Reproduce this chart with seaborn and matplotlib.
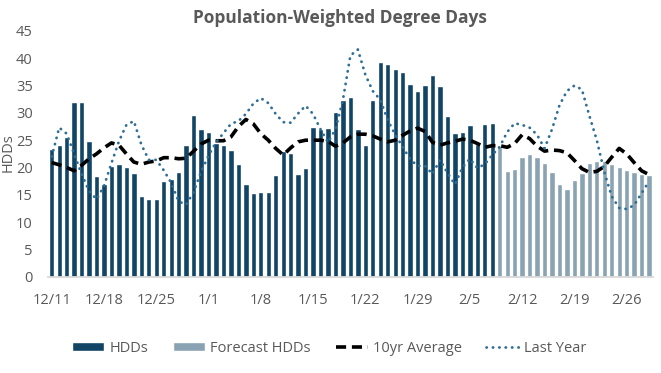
import numpy as np
import pandas as pd
import matplotlib
matplotlib.use("Agg")
import matplotlib.pyplot as plt
import seaborn as sns

# ------------------------------------------------------------
# Data (daily, 12/11 -> 2/29)
# ------------------------------------------------------------
hdds = [23.4, 24.1, 25.6, 32.0, 32.0, 24.8, 18.4, 17.0, 20.3, 20.6,
        20.1, 19.0, 14.8, 14.2, 14.2, 17.5, 17.9, 19.2, 24.1, 29.6,
        27.0, 26.5, 24.5, 24.1, 23.2, 20.6, 17.0, 15.3, 15.5, 15.5,
        18.6, 23.0, 22.6, 18.8, 19.9, 27.4, 27.0, 27.2, 30.2, 32.4,
        32.9, 27.0, 24.1, 32.4, 39.3, 38.9, 38.0, 37.5, 35.3, 34.0,
        35.1, 36.9, 34.9, 29.4, 26.3, 26.5, 27.8, 24.3, 28.0, 28.1]

forecast_hdds = [24.0, 19.4, 19.7, 21.9, 22.5, 21.9, 20.8, 19.2, 17.0, 16.1,
                 17.7, 19.0, 20.8, 21.2, 21.2, 20.6, 20.1, 19.5, 19.2, 18.8,
                 18.6]

avg_10yr = [20.9, 20.5, 20.0, 19.4, 20.4, 21.6, 22.5, 23.6, 24.5, 24.1,
            22.5, 21.0, 20.6, 21.0, 21.2, 21.8, 21.8, 21.6, 21.7, 23.0,
            24.3, 25.0, 24.9, 24.9, 25.6, 27.5, 28.8, 28.0, 26.2, 25.0,
            23.5, 22.3, 23.6, 24.7, 25.0, 25.0, 25.0, 24.8, 23.9, 24.5,
            25.6, 26.1, 26.1, 25.8, 25.2, 24.7, 25.0, 25.9, 26.7, 27.2,
            26.6, 24.6, 24.1, 24.5, 24.8, 25.2, 25.0, 24.4, 23.7, 24.0,
            24.0, 23.7, 24.4, 26.0, 25.3, 23.9, 23.0, 23.2, 23.1, 22.7,
            21.3, 19.8, 19.1, 19.3, 20.2, 21.9, 23.5, 22.5, 20.9, 19.4,
            18.7]

last_year = [22.0, 27.3, 26.2, 22.5, 18.8, 15.7, 14.2, 16.6, 20.8, 24.8,
             27.8, 28.5, 24.2, 21.4, 21.4, 19.5, 17.2, 13.8, 13.2, 15.5,
             19.2, 22.2, 24.6, 26.3, 28.0, 28.5, 29.8, 31.7, 32.7, 31.8,
             29.8, 28.3, 28.2, 29.9, 31.3, 29.8, 27.0, 24.6, 27.0, 32.4,
             40.5, 41.6, 37.0, 34.0, 32.4, 28.7, 26.0, 23.8, 21.5, 20.3,
             20.3, 18.8, 21.4, 19.0, 16.9, 20.0, 21.6, 19.9, 20.6, 22.3,
             23.8, 26.5, 28.1, 27.8, 27.3, 26.0, 23.5, 27.0, 31.4, 34.0,
             35.0, 34.3, 29.5, 25.0, 19.2, 14.7, 12.6, 12.4, 13.1, 15.3,
             17.5]

tick_labels = ["12/11", "12/18", "12/25", "1/1", "1/8", "1/15",
               "1/22", "1/29", "2/5", "2/12", "2/19", "2/26"]

days = list(range(len(hdds) + len(forecast_hdds)))

bars = pd.DataFrame({
    "day": days,
    "value": hdds + forecast_hdds,
    "kind": ["HDDs"] * len(hdds) + ["Forecast HDDs"] * len(forecast_hdds),
})

# ------------------------------------------------------------
# Plot
# ------------------------------------------------------------
sns.set_theme(style="white")
plt.rcParams["font.family"] = ["Open Sans", "DejaVu Sans"]
grey = "#595959"

fig = plt.figure(figsize=(6.61, 3.73), dpi=100)
ax = fig.add_axes([0.0726, 0.258, 0.915, 0.659])

sns.barplot(data=bars, x="day", y="value", hue="kind",
            palette={"HDDs": "#114465", "Forecast HDDs": "#8AA3B3"},
            dodge=False, width=0.72, saturation=1, ax=ax)

sns.lineplot(x=days, y=avg_10yr, ax=ax, color="black", lw=2.6,
             linestyle=(0, (2.8, 1.6)), label="10yr Average")
sns.lineplot(x=days, y=last_year, ax=ax, color="#2E6E94", lw=2.0,
             linestyle=(0, (0.1, 2.2)), dash_capstyle="round",
             label="Last Year")

ax.set_xlim(-0.5, len(days) - 0.5)
ax.set_ylim(0, 45)
ax.set_yticks(np.arange(0, 46, 5))
ax.set_xticks(np.arange(0, len(days), 7))
ax.set_xticklabels(tick_labels)
ax.tick_params(axis="both", length=0, labelsize=10.5, colors=grey)
ax.tick_params(axis="x", pad=12)
ax.tick_params(axis="y", pad=11)
ax.set_xlabel("")
ax.set_ylabel("")

for s in ["top", "right", "left"]:
    ax.spines[s].set_visible(False)
ax.spines["bottom"].set_color("#D9D9D9")
ax.spines["bottom"].set_linewidth(1.3)

handles, labels = ax.get_legend_handles_labels()
ax.get_legend().remove()
fig.legend(handles, labels, loc="center", bbox_to_anchor=(0.498, 0.067),
           ncol=4, frameon=False, fontsize=10.5, labelcolor=grey,
           handlelength=2.2, handleheight=0.6, columnspacing=1.7,
           handletextpad=0.35)

fig.text(0.514, 0.952, "Population-Weighted Degree Days", ha="center",
         va="center", fontsize=12.5, fontweight="bold", color=grey)
fig.text(0.013, 0.59, "HDDs", rotation=90, ha="center", va="center",
         fontsize=10.5, color=grey)

fig.savefig("out.png", dpi=100)
